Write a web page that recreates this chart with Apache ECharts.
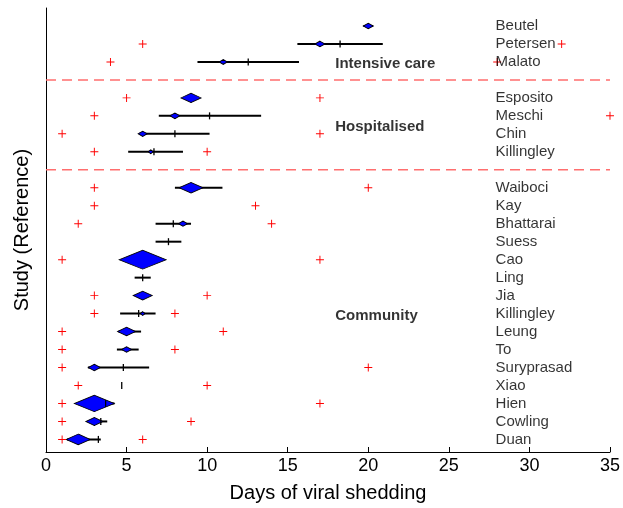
<!DOCTYPE html>
<html><head><meta charset="utf-8">
<script src="https://cdn.jsdelivr.net/npm/echarts@6/dist/echarts.min.js"></script>
<style>html,body{margin:0;padding:0;background:#fff}#c{width:623px;height:508px}</style>
</head><body><div id="c"></div>
<script>
// ---- data (listed top to bottom) ----
const studies = ['Beutel','Petersen','Malato','Esposito','Meschi','Chin','Killingley','Waiboci','Kay','Bhattarai','Suess','Cao','Ling','Jia','Killingley','Leung','To','Suryprasad','Xiao','Hien','Cowling','Duan'];
const studyGroup = ['Intensive care','Intensive care','Intensive care','Hospitalised','Hospitalised','Hospitalised','Hospitalised','Community','Community','Community','Community','Community','Community','Community','Community','Community','Community','Community','Community','Community','Community','Community'];
const groupNames = ['Intensive care','Hospitalised','Community'];
// red + markers (min / max days)
const rangeLow  = [null, 6, 4, 5, 3, 1, 3, 3, 3, 2, null, 1, null, 3, 3, 1, 1, 1, 2, 1, 1, 1];
const rangeHigh = [null,32,28,17,35,17,10,20,13,14, null,17, null,10, 8,11, 8,20,10,17, 9, 6];
// black interval lines
const ciLow  = [19.7,15.6, 9.4,null, 7.0, 5.8, 5.1, 8.0,null, 6.8, 6.8,null, 5.5,null, 4.6, 4.5, 4.4, 2.6,null, 2.5, 2.6, 1.3];
const ciHigh = [20.3,20.9,15.7,null,13.35,10.15,8.5,10.95,null,9.0, 8.4,null, 6.5,null, 6.8, 5.9, 5.75,6.4,null, 4.25,3.8, 3.4];
// black vertical ticks (median)
const medianDays = [null,18.25,12.55,null,10.15,8.0,6.7,null,null,7.9,7.6,null,6.0,null,5.75,null,null,4.8,4.7,3.7,3.4,3.25];
// blue diamonds (estimate) and their relative weight
const estimate = [20,17,11,9,8,6,6.5,9,null,8.5,null,6,null,6,6,5,5,3,null,3,3,2];
const weight   = [10,10,8,20,10,9,5,24,null,9,null,47,null,19,5,18,10,12,null,40,17,24];
const xTickValues = [0,5,10,15,20,25,30,35];

// ---- layout constants ----
const FONT = 'Liberation Sans, Arial, Helvetica, sans-serif';
const NAME_X = 27.9;
const GROUP_X = 17.95;
const groupLabelY = {'Intensive care': 21.9, 'Hospitalised': 18.4, 'Community': 7.9};

// compute row positions (bottom = 1, a blank row between groups)
const n = studies.length;
const rowY = new Array(n);
const separators = [];
let y = 0, prevG = null;
for (let i = n - 1; i >= 0; i--) {
  if (prevG !== null && studyGroup[i] !== prevG) { y += 1; separators.push(y); }
  y += 1; rowY[i] = y; prevG = studyGroup[i];
}

const crossData = [], lineData = [], medData = [], diaData = [], nameData = [];
for (let i = 0; i < n; i++) {
  if (rangeLow[i] != null) crossData.push([rangeLow[i], rowY[i]]);
  if (rangeHigh[i] != null) crossData.push([rangeHigh[i], rowY[i]]);
  if (ciLow[i] != null) lineData.push([ciLow[i], ciHigh[i], rowY[i]]);
  if (medianDays[i] != null) medData.push([medianDays[i], rowY[i]]);
  if (estimate[i] != null) diaData.push({value: [estimate[i], rowY[i]], symbolSize: [weight[i], 0.36 * weight[i] + 2]});
  nameData.push({value: [NAME_X, rowY[i]], name: studies[i]});
}
const groupData = groupNames.map(g => ({value: [GROUP_X, groupLabelY[g]], name: g}));

const chart = echarts.init(document.getElementById('c'), null, {renderer: 'canvas'});
const series = [];
separators.forEach(s => series.push({
  type: 'line', data: [[0, s], [35, s]], symbol: 'none', silent: true,
  lineStyle: {color: '#ff6e6e', width: 1.5, type: [10, 6]}, z: 1
}));
series.push({
  type: 'custom', data: lineData, encode: {x: [0, 1], y: 2}, z: 2,
  renderItem: (p, api) => {
    const a = api.coord([api.value(0), api.value(2)]);
    const b = api.coord([api.value(1), api.value(2)]);
    return {type: 'line', shape: {x1: a[0], y1: a[1], x2: b[0], y2: b[1]}, style: {stroke: '#000', lineWidth: 2}};
  }
});
series.push({
  type: 'scatter', data: diaData, symbol: 'diamond', z: 3,
  itemStyle: {color: '#0000ff', borderColor: '#000', borderWidth: 1, opacity: 1}
});
series.push({
  type: 'custom', data: medData, encode: {x: 0, y: 1}, z: 4,
  renderItem: (p, api) => {
    const a = api.coord([api.value(0), api.value(1)]);
    return {type: 'line', shape: {x1: a[0], y1: a[1] - 3.5, x2: a[0], y2: a[1] + 3.5}, style: {stroke: '#000', lineWidth: 1.3}};
  }
});
series.push({
  type: 'scatter', data: crossData, z: 5,
  symbol: 'path://M-0.12,-1 L0.12,-1 L0.12,1 L-0.12,1 Z M-1,-0.12 L1,-0.12 L1,0.12 L-1,0.12 Z',
  symbolSize: 8, itemStyle: {color: '#ff0000', opacity: 1}
});
series.push({
  type: 'scatter', data: nameData, symbolSize: 0, z: 6, silent: true,
  label: {show: true, position: 'right', distance: 0, formatter: p => p.name,
    color: '#000', fontSize: 15, fontFamily: FONT}
});
series.push({
  type: 'scatter', data: groupData, symbolSize: 0, z: 6, silent: true,
  label: {show: true, position: 'right', distance: 0, formatter: p => p.name,
    color: '#000', fontSize: 15, fontWeight: 'bold', fontFamily: FONT}
});

chart.setOption({
  animation: false,
  backgroundColor: '#fff',
  grid: {left: 46, right: 10, top: 8, bottom: 56, containLabel: false},
  xAxis: {
    type: 'value', min: xTickValues[0], max: xTickValues[xTickValues.length - 1], interval: 5,
    name: 'Days of viral shedding', nameLocation: 'middle', nameGap: 31,
    nameTextStyle: {fontSize: 20, color: '#000', fontFamily: FONT},
    axisLine: {show: true, lineStyle: {color: '#000', width: 1}},
    axisTick: {show: true, inside: true, length: 5, lineStyle: {color: '#000'}},
    axisLabel: {fontSize: 18, color: '#000', margin: 5, fontFamily: FONT},
    splitLine: {show: false}
  },
  yAxis: {
    type: 'value', min: 0.3, max: 25,
    name: 'Study (Reference)', nameLocation: 'middle', nameGap: 14,
    nameTextStyle: {fontSize: 20, color: '#000', fontFamily: FONT},
    axisLine: {show: true, lineStyle: {color: '#000', width: 1}},
    axisTick: {show: false}, axisLabel: {show: false}, splitLine: {show: false}
  },
  series: series
});
</script></body></html>
